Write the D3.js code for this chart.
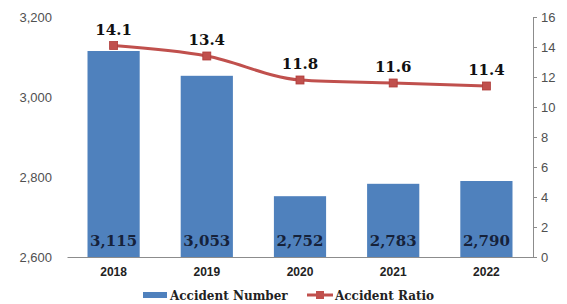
<!DOCTYPE html>
<html>
<head>
<meta charset="utf-8">
<script src="https://cdn.jsdelivr.net/npm/d3@7"></script>
<style>
  body { margin: 0; background: #fff; }
  svg { display: block; font-family: "DejaVu Serif", serif; }
</style>
</head>
<body>
<svg id="chart" width="567" height="304"></svg>
<script>
var years = ["2018", "2019", "2020", "2021", "2022"];
var accidentNumber = [3115, 3053, 2752, 2783, 2790];
var accidentRatio = [14.1, 13.4, 11.8, 11.6, 11.4];
var leftTicks = [2600, 2800, 3000, 3200];
var rightTicks = [0, 2, 4, 6, 8, 10, 12, 14, 16];

var barColor = "#4f81bd",
    lineColor = "#c0504d";

var margin = { top: 17, right: 34, bottom: 47, left: 67 },
    width = 567 - margin.left - margin.right,
    height = 304 - margin.top - margin.bottom;

var svg = d3.select("#chart");
var g = svg.append("g")
    .attr("transform", "translate(" + margin.left + "," + margin.top + ")");

// Scales
var x = d3.scaleBand().domain(years).range([0, width]).paddingInner(0.44).paddingOuter(0.22);
var yLeft = d3.scaleLinear().domain([2600, 3200]).range([height, 0]);
var yRight = d3.scaleLinear().domain([0, 16]).range([height, 0]);

// Left axis (labels only)
var leftAxis = g.append("g")
    .call(d3.axisLeft(yLeft).tickValues(leftTicks).tickFormat(d3.format(",")).tickSize(0).tickPadding(15));
leftAxis.select(".domain").remove();
leftAxis.selectAll("text").attr("fill", "#505050").style("font-size", "13px");

// Right axis
var rightAxis = g.append("g")
    .attr("transform", "translate(" + width + ",0)")
    .call(d3.axisRight(yRight).tickValues(rightTicks).tickSizeInner(4).tickSizeOuter(0).tickPadding(4));
rightAxis.select(".domain").attr("stroke", "#8c8c8c");
rightAxis.selectAll(".tick line").attr("stroke", "#8c8c8c");
rightAxis.selectAll("text").attr("fill", "#505050").style("font-size", "13px");

// Bars
g.selectAll(".bar")
    .data(accidentNumber)
  .enter().append("rect")
    .attr("class", "bar")
    .attr("x", function(d, i) { return x(years[i]); })
    .attr("y", function(d) { return yLeft(d); })
    .attr("width", x.bandwidth())
    .attr("height", function(d) { return height - yLeft(d); })
    .attr("fill", barColor);

// Bottom axis
var bottomAxis = g.append("g")
    .attr("transform", "translate(0," + height + ")")
    .call(d3.axisBottom(x).tickSize(0).tickPadding(10));
bottomAxis.select(".domain").attr("stroke", "#8c8c8c");
bottomAxis.selectAll("text").attr("fill", "#222").style("font-size", "12px").style("font-weight", "bold");

// Bar value labels
g.selectAll(".barLabel")
    .data(accidentNumber)
  .enter().append("text")
    .attr("class", "barLabel")
    .attr("x", function(d, i) { return x(years[i]) + x.bandwidth() / 2; })
    .attr("y", height - 11)
    .attr("text-anchor", "middle")
    .attr("fill", "#16223a")
    .style("font-size", "15px")
    .style("font-weight", "bold")
    .text(function(d) { return d3.format(",")(d); });

// Ratio line
var line = d3.line()
    .x(function(d, i) { return x(years[i]) + x.bandwidth() / 2; })
    .y(function(d) { return yRight(d); })
    .curve(d3.curveMonotoneX);

g.append("path")
    .datum(accidentRatio)
    .attr("fill", "none")
    .attr("stroke", lineColor)
    .attr("stroke-width", 3)
    .attr("d", line);

g.selectAll(".marker")
    .data(accidentRatio)
  .enter().append("rect")
    .attr("class", "marker")
    .attr("x", function(d, i) { return x(years[i]) + x.bandwidth() / 2 - 4; })
    .attr("y", function(d) { return yRight(d) - 4; })
    .attr("width", 8)
    .attr("height", 8)
    .attr("fill", lineColor)
    .attr("stroke", "#b03c3a")
    .attr("stroke-width", 0.8);

g.selectAll(".ratioLabel")
    .data(accidentRatio)
  .enter().append("text")
    .attr("class", "ratioLabel")
    .attr("x", function(d, i) { return x(years[i]) + x.bandwidth() / 2; })
    .attr("y", function(d) { return yRight(d) - 11; })
    .attr("text-anchor", "middle")
    .attr("fill", "#111")
    .style("font-size", "15px")
    .style("font-weight", "bold")
    .text(function(d) { return d.toFixed(1); });

// Legend
var legend = svg.append("g").attr("transform", "translate(143,295)");
legend.append("rect")
    .attr("x", 0).attr("y", -3).attr("width", 24).attr("height", 6)
    .attr("fill", barColor);
legend.append("text")
    .attr("x", 27).attr("y", 5)
    .attr("fill", "#222")
    .style("font-size", "12px").style("font-weight", "bold")
    .text("Accident Number");

var leg2 = legend.append("g").attr("transform", "translate(164,0)");
leg2.append("line")
    .attr("x1", 0).attr("x2", 26).attr("y1", 0).attr("y2", 0)
    .attr("stroke", lineColor).attr("stroke-width", 3);
leg2.append("rect")
    .attr("x", 9).attr("y", -4).attr("width", 8).attr("height", 8)
    .attr("fill", lineColor);
leg2.append("text")
    .attr("x", 28).attr("y", 5)
    .attr("fill", "#222")
    .style("font-size", "12px").style("font-weight", "bold")
    .text("Accident Ratio");
</script>
</body>
</html>
